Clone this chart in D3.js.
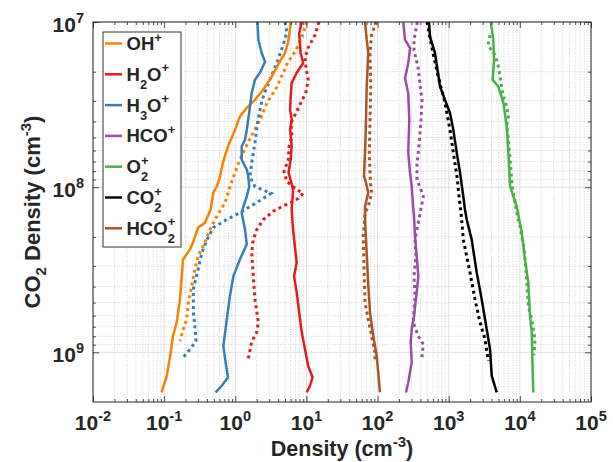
<!DOCTYPE html>
<html>
<head>
<meta charset="utf-8">
<script src="https://cdn.jsdelivr.net/npm/d3@7/dist/d3.min.js"></script>
<style>
body{margin:0;background:#fff;}
text{font-family:"Liberation Sans",Arial,Helvetica,sans-serif;font-weight:bold;fill:#262626;white-space:pre;}
</style>
</head>
<body>
<svg id="chart" width="613" height="462"></svg>
<script>
// ---- data: [CO2 density (cm^-3), ion density (cm^-3)] ----
var ohSolid = [[1e7,6.07],[1.34e7,5.5],[1.54e7,5.0],[1.82e7,3.98],[2.14e7,3.25],[2.58e7,2.45],[2.96e7,1.89],[3.31e7,1.45],[3.74e7,1.16],[4.5e7,0.99],[5.67e7,0.79],[7.1e7,0.67],[8.6e7,0.61],[9.9e7,0.55],[1.08e8,0.49],[1.37e8,0.45],[1.64e8,0.375],[1.76e8,0.30],[2.16e8,0.255],[2.39e8,0.23],[2.74e8,0.184],[3.46e8,0.177],[4.79e8,0.167],[6.6e8,0.15],[8.0e8,0.133],[1.06e9,0.121],[1.39e9,0.109],[1.75e9,0.092]];
var ohDotted = [[1e7,10.1],[1.23e7,8.67],[1.48e7,7.14],[1.75e7,5.51],[2.03e7,4.69],[2.47e7,3.86],[3.08e7,2.79],[3.91e7,2.23],[4.69e7,1.77],[5.67e7,1.42],[6.82e7,1.16],[8.17e7,0.99],[9.94e7,0.84],[1.24e8,0.72],[1.5e8,0.55],[1.81e8,0.44],[2.16e8,0.375],[2.61e8,0.30],[3.15e8,0.27],[3.97e8,0.244],[4.99e8,0.219],[6.32e8,0.207],[7.26e8,0.186],[8.55e8,0.167]];

var h2oSolid = [[1e7,8.6],[1.17e7,7.9],[1.54e7,8.3],[1.77e7,9.0],[2.03e7,7.3],[2.34e7,6.2],[2.83e7,6.0],[3.4e7,5.9],[3.91e7,6.2],[4.5e7,5.9],[5.67e7,6.2],[6.82e7,6.0],[8.17e7,5.6],[9.02e7,6.0],[1.04e8,6.5],[1.37e8,6.2],[1.81e8,6.5],[2.32e8,6.9],[2.86e8,7.3],[3.46e8,6.7],[4.34e8,7.3],[5.73e8,7.9],[7.57e8,8.6],[9.6e8,9.55],[1.21e9,10.6],[1.42e9,12.2],[1.6e9,11.2],[1.75e9,10.1]];
var h2oDotted = [[1e7,15.0],[1.2e7,13.2],[1.44e7,10.5],[1.65e7,9.55],[1.9e7,9.86],[2.24e7,10.6],[2.65e7,9.86],[3.08e7,8.39],[3.55e7,7.14],[4.08e7,6.07],[4.95e7,6.27],[5.67e7,5.69],[6.82e7,5.56],[8.05e7,4.84],[9.27e7,5.33],[1.04e8,7.38],[1.09e8,9.04],[1.19e8,7.3],[1.3e8,4.73],[1.4e8,3.42],[1.57e8,2.48],[1.81e8,2.0],[2.08e8,1.79],[2.49e8,1.70],[3.46e8,1.79],[4.79e8,1.89],[6.59e8,2.11],[7.57e8,2.0],[8.65e8,1.70],[1.1e9,1.52]];

var h3oSolid = [[1e7,2.05],[1.28e7,2.11],[1.54e7,2.35],[1.74e7,2.62],[2.03e7,2.22],[2.24e7,1.89],[2.69e7,1.70],[3.25e7,1.61],[4.5e7,1.45],[5.16e7,1.37],[5.67e7,1.23],[6.82e7,1.23],[7.83e7,1.45],[8.6e7,1.52],[9.9e7,1.57],[1.14e8,1.45],[1.31e8,1.30],[1.43e8,1.23],[1.81e8,1.37],[2.22e8,1.45],[2.74e8,1.16],[3.46e8,0.94],[4.57e8,0.84],[6.04e8,0.77],[7.57e8,0.72],[9.16e8,0.68],[1.1e9,0.72],[1.42e9,0.79],[1.6e9,0.64],[1.75e9,0.53]];
var h3oDotted = [[1e7,5.0],[1.15e7,5.33],[1.38e7,4.69],[1.7e7,3.98],[2.09e7,3.28],[2.47e7,2.79],[2.96e7,2.38],[3.91e7,2.08],[5.38e7,1.89],[7.1e7,1.70],[8.65e7,1.61],[9.94e7,1.89],[1.09e8,3.18],[1.24e8,2.0],[1.43e8,1.16],[1.57e8,0.76],[1.76e8,0.49],[2.08e8,0.40],[2.49e8,0.34],[3.15e8,0.30],[4.16e8,0.257],[5.73e8,0.257],[6.9e8,0.27],[8.55e8,0.28],[9.6e8,0.23],[1.1e9,0.177]];

var hcoSolid = [[1e7,230],[1.28e7,243],[1.44e7,286],[1.78e7,270],[2.19e7,243],[2.7e7,270],[3.91e7,279],[6.19e7,270],[8.17e7,286],[9.9e7,302],[1.37e8,318],[1.5e8,325],[1.98e8,336],[3.46e8,374],[4.34e8,355],[6.04e8,325],[7.26e8,302],[8.7e8,292],[1.15e9,302],[1.52e9,270],[1.75e9,251]];
var hcoDotted = [[1e7,362],[1.28e7,325],[1.48e7,325],[1.87e7,370],[2.4e7,395],[2.96e7,421],[3.91e7,408],[5.54e7,383],[7.31e7,358],[9.02e7,358],[1.04e8,408],[1.14e8,440],[1.28e8,417],[1.64e8,374],[2.08e8,336],[2.63e8,347],[3.47e8,325],[4.57e8,336],[6.59e8,318],[8.0e8,374],[8.95e8,440],[1.1e9,417]];

var o2Solid = [[1e7,3890],[1.28e7,4240],[1.7e7,4335],[2.24e7,4150],[2.46e7,4980],[3.08e7,5860],[4.3e7,6540],[6.19e7,6890],[9.9e7,7280],[1.31e8,9040],[1.88e8,10620],[2.74e8,11810],[3.77e8,13150],[6.04e8,13900],[7.57e8,14690],[1.1e9,15000],[1.75e9,15460]];
var o2Dotted = [[1.2e7,3810],[1.38e7,3565],[1.58e7,4480],[1.82e7,4930],[2.12e7,5260],[2.76e7,5800],[3.26e7,6540],[3.75e7,6890],[4.19e7,6540],[5.16e7,6890],[6.82e7,7280],[9.66e7,7760],[1.43e8,9040],[1.73e8,10050],[2.22e8,11190],[2.74e8,11810],[3.62e8,12470],[5.27e8,13150],[6.32e8,14690],[8.35e8,16340],[1.04e9,15810]];

var co2Solid = [[1e7,528],[1.23e7,546],[1.54e7,641],[2.46e7,755],[2.96e7,887],[3.55e7,1042],[4.5e7,1161],[6.19e7,1297],[8.17e7,1443],[1.14e8,1604],[1.37e8,1694],[1.57e8,1790],[2.08e8,2104],[3.29e8,2475],[4.79e8,2910],[7.26e8,3420],[9.6e8,3810],[1.39e9,4025],[1.75e9,4730]];
var co2Dotted = [[1e7,495],[1.54e7,601],[2.15e7,714],[3.08e7,887],[4.5e7,1042],[6.19e7,1161],[8.65e7,1309],[1.14e8,1397],[1.43e8,1490],[2.08e8,1604],[3.29e8,1991],[4.79e8,2344],[6.59e8,2754],[8.35e8,3238],[1.13e9,3606]];

var hco2Solid = [[1e7,66.6],[1.28e7,70.3],[1.54e7,74.1],[1.86e7,72.6],[2.46e7,70.3],[3.91e7,68.8],[6.19e7,66.6],[8.61e7,64.5],[9.4e7,68.8],[1.08e8,74.1],[1.31e8,66.6],[1.57e8,66.6],[2.49e8,70.3],[3.97e8,74.1],[5.73e8,78.3],[7.98e8,87.2],[1.05e9,97.2],[1.32e9,102],[1.75e9,108]];
var hco2Dotted = [[1e7,98],[1.17e7,82.7],[1.54e7,78.3],[2.47e7,80.2],[3.91e7,78.3],[6.19e7,76.6],[8.17e7,78.3],[9.94e7,80.2],[1.08e8,82.7],[1.31e8,74.1],[1.43e8,66.6],[1.99e8,63.0],[3.15e8,64.5],[4.99e8,66.6],[6.32e8,74.1],[8.0e8,82.7],[1.0e9,92],[1.13e9,92]];

var speciesColors = ["#ff7f00","#e41a1c","#377eb8","#984ea3","#4daf4a","#000000","#a65628"];
var speciesLabels = [
  [{t:"OH"},{sup:"+"}],
  [{t:"H"},{sub:"2"},{t:"O"},{sup:"+"}],
  [{t:"H"},{sub:"3"},{t:"O"},{sup:"+"}],
  [{t:"HCO"},{sup:"+"}],
  [{t:"O"},{sub:"2",sup:"+"}],
  [{t:"CO"},{sub:"2",sup:"+"}],
  [{t:"HCO"},{sub:"2",sup:"+"}]
];
var solidSeries = [ohSolid,h2oSolid,h3oSolid,hcoSolid,o2Solid,co2Solid,hco2Solid];
var dottedSeries = [ohDotted,h2oDotted,h3oDotted,hcoDotted,o2Dotted,co2Dotted,hco2Dotted];

var xTickExp = [-2,-1,0,1,2,3,4,5];
var yTickExp = [7,8,9];

// ---- layout ----
var LEFT=93, RIGHT=591, TOP=22, BOTTOM=402;
var AXIS_COLOR="#262626";

var svg = d3.select("#chart");
var x = d3.scaleLog().domain([1e-2,1e5]).range([LEFT,RIGHT]);
var y = d3.scaleLog().domain([1e7,2e9]).range([TOP,BOTTOM]);

var xMajor = xTickExp.map(function(e){return Math.pow(10,e);});
var yMajor = yTickExp.map(function(e){return Math.pow(10,e);});
var xMinor=[], yMinor=[];
for (var e=-2;e<5;e++) for (var m=2;m<10;m++) xMinor.push(m*Math.pow(10,e));
for (var e=7;e<10;e++) for (var m=2;m<10;m++) if (m*Math.pow(10,e)<2e9) yMinor.push(m*Math.pow(10,e));

// rich text with sub/superscripts; returns the group
function richText(g,px,py,parts,size,anchor,supRaise,subDrop,small){
	var grp = g.append("g");
	var cx = 0;
	parts.forEach(function(p){
		if (p.t){
			var t = grp.append("text").attr("x",cx).attr("y",0).attr("xml:space","preserve")
				.style("font-size",size+"px").text(p.t);
			cx += t.node().getComputedTextLength();
		} else {
			var w = 0;
			if (p.sup){
				var s = grp.append("text").attr("x",cx).attr("y",-supRaise).style("font-size",small+"px").text(p.sup);
				w = Math.max(w,s.node().getComputedTextLength());
			}
			if (p.sub){
				var b = grp.append("text").attr("x",cx).attr("y",subDrop).style("font-size",small+"px").text(p.sub);
				w = Math.max(w,b.node().getComputedTextLength());
			}
			cx += w;
		}
	});
	var shift = 0;
	if (anchor=="middle") shift = -cx/2;
	else if (anchor=="end") shift = -cx;
	grp.attr("transform","translate("+(px+shift)+","+py+")");
	return grp;
}

// ---- grid ----
var grid = svg.append("g").attr("id","grid");
grid.selectAll(".xminor").data(xMinor).enter().append("line")
	.attr("x1",function(d){return x(d);}).attr("x2",function(d){return x(d);})
	.attr("y1",TOP).attr("y2",BOTTOM)
	.style("stroke","#c8c8c8").style("stroke-width",0.8).style("stroke-dasharray","1,1.6");
grid.selectAll(".yminor").data(yMinor).enter().append("line")
	.attr("y1",function(d){return y(d);}).attr("y2",function(d){return y(d);})
	.attr("x1",LEFT).attr("x2",RIGHT)
	.style("stroke","#c8c8c8").style("stroke-width",0.8).style("stroke-dasharray","1,1.6");
grid.selectAll(".xmajor").data(xMajor).enter().append("line")
	.attr("x1",function(d){return x(d);}).attr("x2",function(d){return x(d);})
	.attr("y1",TOP).attr("y2",BOTTOM)
	.style("stroke","#e0e0e0").style("stroke-width",1);
grid.selectAll(".ymajor").data(yMajor).enter().append("line")
	.attr("y1",function(d){return y(d);}).attr("y2",function(d){return y(d);})
	.attr("x1",LEFT).attr("x2",RIGHT)
	.style("stroke","#e0e0e0").style("stroke-width",1);

// ---- series ----
var line = d3.line().x(function(d){return x(d[1]);}).y(function(d){return y(d[0]);});
var plot = svg.append("g").attr("id","series");
dottedSeries.forEach(function(s,i){
	plot.append("path").attr("d",line(s))
		.style("fill","none").style("stroke",speciesColors[i])
		.style("stroke-width",3).style("stroke-dasharray","3,3.5");
});
solidSeries.forEach(function(s,i){
	plot.append("path").attr("d",line(s))
		.style("fill","none").style("stroke",speciesColors[i])
		.style("stroke-width",2.5).style("stroke-linejoin","round");
});

// ---- axes (box with inward ticks) ----
function styleAxis(g){
	g.select(".domain").remove();
	g.selectAll(".tick line").style("stroke",AXIS_COLOR).style("stroke-width",0.8);
}
var axes = svg.append("g").attr("id","axes");
axes.append("g").attr("transform","translate(0,"+BOTTOM+")")
	.call(d3.axisBottom(x).tickValues(xMajor).tickSize(-6).tickFormat("")).call(styleAxis);
axes.append("g").attr("transform","translate(0,"+BOTTOM+")")
	.call(d3.axisBottom(x).tickValues(xMinor).tickSize(-3).tickFormat("")).call(styleAxis);
axes.append("g").attr("transform","translate(0,"+TOP+")")
	.call(d3.axisTop(x).tickValues(xMajor).tickSize(-6).tickFormat("")).call(styleAxis);
axes.append("g").attr("transform","translate(0,"+TOP+")")
	.call(d3.axisTop(x).tickValues(xMinor).tickSize(-3).tickFormat("")).call(styleAxis);
axes.append("g").attr("transform","translate("+LEFT+",0)")
	.call(d3.axisLeft(y).tickValues(yMajor).tickSize(-6).tickFormat("")).call(styleAxis);
axes.append("g").attr("transform","translate("+LEFT+",0)")
	.call(d3.axisLeft(y).tickValues(yMinor).tickSize(-3).tickFormat("")).call(styleAxis);
axes.append("g").attr("transform","translate("+RIGHT+",0)")
	.call(d3.axisRight(y).tickValues(yMajor).tickSize(-6).tickFormat("")).call(styleAxis);
axes.append("g").attr("transform","translate("+RIGHT+",0)")
	.call(d3.axisRight(y).tickValues(yMinor).tickSize(-3).tickFormat("")).call(styleAxis);
axes.append("rect").attr("x",LEFT).attr("y",TOP).attr("width",RIGHT-LEFT).attr("height",BOTTOM-TOP)
	.style("fill","none").style("stroke",AXIS_COLOR).style("stroke-width",1);

// tick labels
xTickExp.forEach(function(e){
	richText(axes,x(Math.pow(10,e)),430,[{t:"10"},{sup:String(e)}],21,"middle",9.5,0,14.5);
});
yTickExp.forEach(function(e){
	richText(axes,84,y(Math.pow(10,e))+10,[{t:"10"},{sup:String(e)}],21,"end",9.5,0,14.5);
});

// axis titles
richText(axes,(LEFT+RIGHT)/2,456,[{t:"Density (cm"},{sup:"-3"},{t:")"}],21.5,"middle",9,0,15);
var yTitle = axes.append("g").attr("transform","translate(40,"+((TOP+BOTTOM)/2)+") rotate(-90)");
richText(yTitle,0,0,[{t:"CO"},{sub:"2"},{t:" Density (cm"},{sup:"-3"},{t:")"}],22,"middle",9,6,15);

// ---- legend ----
var legend = svg.append("g").attr("id","legend");
legend.append("rect").attr("x",103).attr("y",32).attr("width",78).attr("height",215)
	.style("fill","#fff").style("stroke","#333").style("stroke-width",1);
speciesLabels.forEach(function(lab,i){
	var ly = 43.5 + i*30.8;
	legend.append("line").attr("x1",105).attr("x2",122).attr("y1",ly).attr("y2",ly)
		.style("stroke",speciesColors[i]).style("stroke-width",2.5);
	richText(legend,126.5,ly+6.5,lab,18.5,"start",8.5,8,13);
});
</script>
</body>
</html>
